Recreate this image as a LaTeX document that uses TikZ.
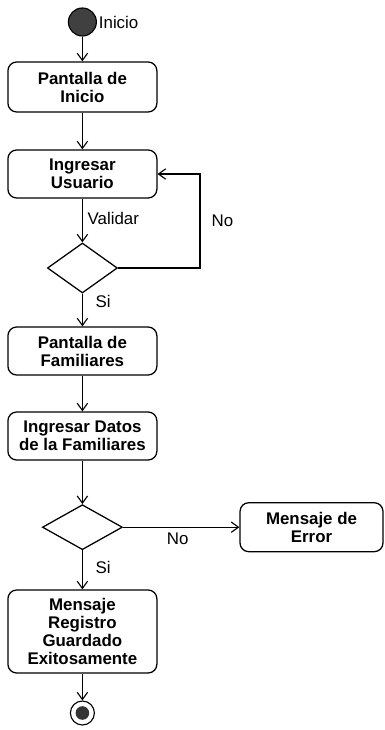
\documentclass[tikz,border=0pt]{standalone}
\usepackage{fontspec}
\setmainfont{Liberation Sans}
\usetikzlibrary{arrows.meta,shapes.geometric}

\begin{document}
\begin{tikzpicture}[
  actividad/.style={rectangle, rounded corners=0.22cm, draw, line width=0.9pt, align=center,
    minimum width=3.725cm, minimum height=1.2cm, inner sep=2pt,
    font=\fontsize{12}{12.8}\selectfont\bfseries},
  decision/.style={diamond, draw, line width=0.9pt, inner sep=0pt},
  etiqueta/.style={font=\fontsize{12}{13}\selectfont},
  >={Straight Barb[length=1.8mm,width=2.6mm]}, line width=0.8pt
]
\useasboundingbox (0,0) rectangle (9.625,-18.25);

\node[circle, draw, fill=black!75, minimum size=0.7cm, inner sep=0pt] (inicio) at (2.06,-0.55) {};
\node[etiqueta, right, inner sep=1pt] (lblInicio) at (inicio.east) {Inicio};

\node[actividad, minimum height=1.25cm] (pantallaInicio) at (2.06,-2.175) {Pantalla de\\Inicio};
\node[actividad] (usuario) at (2.06,-4.35) {Ingresar\\Usuario};
\node[decision, minimum width=1.75cm, minimum height=1.25cm] (valida) at (2.06,-6.7) {};
\node[actividad] (pantallaFam) at (2.06,-8.775) {Pantalla de\\Familiares};
\node[actividad] (datosFam) at (2.06,-10.9) {Ingresar Datos\\de la Familiares};
\node[decision, minimum width=2cm, minimum height=1.125cm] (valida2) at (2.06,-13.18) {};
\node[actividad, minimum width=3.575cm, minimum height=1.225cm] (error) at (7.7875,-13.18) {Mensaje de\\Error};
\node[actividad, minimum height=2.075cm] (guardado) at (2.06,-15.7875) {Mensaje\\Registro\\Guardado\\Exitosamente};
\node[circle, draw, fill=white, minimum size=0.6cm, inner sep=0pt,
  path picture={\fill[black!80] (path picture bounding box.center) circle (0.17cm);}] (fin) at (2.06,-17.825) {};

\coordinate (vuelta) at (5,-4.35);

\draw[->] (inicio) -- (pantallaInicio);
\draw[->] (pantallaInicio) -- (usuario);
\draw[->] (usuario) -- (valida)
  node[etiqueta, pos=0.45, right] (lblValidar) {Validar};
\draw[->] (valida.east) -| (vuelta)
  node[etiqueta, pos=0.75, right=0.16cm] (lblNo1) {No} -- (usuario.east);
\draw[->] (valida) -- (pantallaFam)
  node[etiqueta, pos=0.25, right=0.2cm] (lblSi1) {Si};
\draw[->] (pantallaFam) -- (datosFam);
\draw[->] (datosFam) -- (valida2);
\draw[->] (valida2) -- (error)
  node[etiqueta, pos=0.47, below] (lblNo2) {No};
\draw[->] (valida2) -- (guardado)
  node[etiqueta, pos=0.43, right=0.2cm] (lblSi2) {Si};
\draw[->] (guardado) -- (fin);

\end{tikzpicture}
\end{document}
